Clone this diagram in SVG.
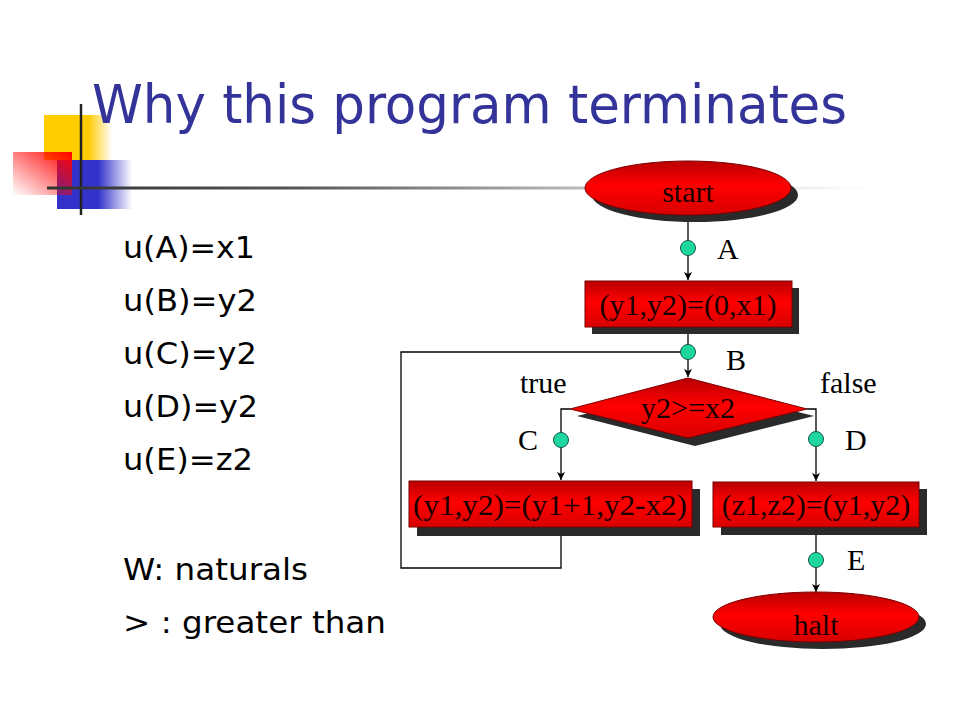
<svg xmlns="http://www.w3.org/2000/svg" width="960" height="720" viewBox="0 0 960 720">
<defs>
<linearGradient id="redfill" x1="0" y1="0" x2="0" y2="1">
<stop offset="0" stop-color="#b80000"/>
<stop offset="0.45" stop-color="#ff0000"/>
<stop offset="1" stop-color="#d80000"/>
</linearGradient>
<linearGradient id="yel" x1="0" y1="0" x2="1" y2="0">
<stop offset="0" stop-color="#ffcc00"/>
<stop offset="0.65" stop-color="#ffcc00"/>
<stop offset="1" stop-color="#ffcc00" stop-opacity="0"/>
</linearGradient>
<linearGradient id="blu" x1="0" y1="0" x2="1" y2="0">
<stop offset="0" stop-color="#3333cc"/>
<stop offset="0.55" stop-color="#3333cc"/>
<stop offset="1" stop-color="#3333cc" stop-opacity="0"/>
</linearGradient>
<linearGradient id="redsq" x1="1" y1="0" x2="0" y2="1">
<stop offset="0" stop-color="#ff0000"/>
<stop offset="1" stop-color="#ff0000" stop-opacity="0"/>
</linearGradient>
<linearGradient id="hline" x1="0" y1="0" x2="1" y2="0">
<stop offset="0" stop-color="#333333"/>
<stop offset="0.3" stop-color="#555555"/>
<stop offset="0.65" stop-color="#bbbbbb"/>
<stop offset="1" stop-color="#ffffff"/>
</linearGradient>
<marker id="arr" markerWidth="10" markerHeight="10" refX="8" refY="4" orient="auto" markerUnits="userSpaceOnUse">
<path d="M0,0 L8,4 L0,8 L2,4 Z" fill="#000"/>
</marker>
</defs>
<style>
.sh{fill:#2a2a2a}
.rd{fill:url(#redfill);stroke:#7a0000;stroke-width:1}
.ft{font-family:"Liberation Serif","Times New Roman",serif;font-size:30px;fill:#1a0000;text-anchor:middle}
.lb{font-family:"Liberation Serif","Times New Roman",serif;font-size:30px;fill:#000}
.bt{font-family:"DejaVu Sans","Liberation Sans",sans-serif;font-size:31px;fill:#000}
.dot{fill:#1fd6a0;stroke:#0b5a44;stroke-width:1}
.cn{fill:none;stroke:#000;stroke-width:1.3}
</style>
<rect width="960" height="720" fill="#fff"/>
<g id="logo">
<rect x="44" y="115" width="68" height="45" fill="url(#yel)"/>
<rect x="57" y="160" width="75" height="49" fill="url(#blu)"/>
<rect x="13" y="152" width="59" height="43" fill="url(#redsq)"/>
<line x1="81" y1="104" x2="81" y2="215" stroke="#222" stroke-width="2.5"/>
<rect x="47" y="186.5" width="823" height="3" fill="url(#hline)"/>
</g>
<text id="title" x="92" y="123" font-family="DejaVu Sans Condensed,DejaVu Sans,sans-serif" font-size="54" fill="#333399" textLength="755" lengthAdjust="spacingAndGlyphs">Why this program terminates</text>
<g id="body">
<text class="bt" x="123" y="258" textLength="132" lengthAdjust="spacingAndGlyphs">u(A)=x1</text>
<text class="bt" x="123" y="311" textLength="134" lengthAdjust="spacingAndGlyphs">u(B)=y2</text>
<text class="bt" x="123" y="364" textLength="134" lengthAdjust="spacingAndGlyphs">u(C)=y2</text>
<text class="bt" x="123" y="417" textLength="135" lengthAdjust="spacingAndGlyphs">u(D)=y2</text>
<text class="bt" x="123" y="470" textLength="130" lengthAdjust="spacingAndGlyphs">u(E)=z2</text>
<text class="bt" x="123" y="580" textLength="185" lengthAdjust="spacingAndGlyphs">W: naturals</text>
<text class="bt" x="123" y="633" textLength="263" lengthAdjust="spacingAndGlyphs">&gt; : greater than</text>
</g>
<g id="connectors">
<line class="cn" x1="688" y1="215" x2="688" y2="280" marker-end="url(#arr)"/>
<line class="cn" x1="688" y1="327" x2="688" y2="352"/>
<line class="cn" x1="688" y1="352" x2="688" y2="377" marker-end="url(#arr)"/>
<polyline class="cn" points="570,409 561,409 561,480" marker-end="url(#arr)"/>
<polyline class="cn" points="807,409 816,409 816,481" marker-end="url(#arr)"/>
<polyline class="cn" points="561,527 561,568 401,568 401,352 688,352"/>
<line class="cn" x1="816" y1="527" x2="816" y2="592" marker-end="url(#arr)"/>
<circle class="dot" cx="688" cy="248" r="7.5"/>
<circle class="dot" cx="688" cy="352" r="7.5"/>
<circle class="dot" cx="561" cy="440" r="7.5"/>
<circle class="dot" cx="816" cy="439" r="7.5"/>
<circle class="dot" cx="816" cy="560" r="7.5"/>
<text class="lb" x="717" y="259">A</text>
<text class="lb" x="726" y="370">B</text>
<text class="lb" x="518" y="450">C</text>
<text class="lb" x="845" y="450">D</text>
<text class="lb" x="847" y="570">E</text>
<text class="lb" x="520" y="393">true</text>
<text class="lb" x="820" y="393">false</text>
</g>
<g id="start">
<ellipse class="sh" cx="695" cy="195" rx="103" ry="27"/>
<ellipse class="rd" cx="688" cy="188" rx="103" ry="27"/>
<text class="ft" x="688" y="202">start</text>
</g>
<g id="init">
<rect class="sh" x="592" y="288" width="207" height="46"/>
<rect class="rd" x="585" y="281" width="207" height="46"/>
<text class="ft" x="688" y="315">(y1,y2)=(0,x1)</text>
</g>
<g id="test">
<polygon class="sh" points="695,386 814,416 695,446 577,416"/>
<polygon class="rd" points="688,378 807,409 688,438 570,409"/>
<text class="ft" x="688" y="418">y2&gt;=x2</text>
</g>
<g id="loopbody">
<rect class="sh" x="417" y="489" width="283" height="47"/>
<rect class="rd" x="409" y="481" width="283" height="46"/>
<text class="ft" x="550" y="515" textLength="274" lengthAdjust="spacingAndGlyphs">(y1,y2)=(y1+1,y2-x2)</text>
</g>
<g id="assign">
<rect class="sh" x="721" y="489" width="206" height="46"/>
<rect class="rd" x="713" y="482" width="206" height="45"/>
<text class="ft" x="816" y="515">(z1,z2)=(y1,y2)</text>
</g>
<g id="halt">
<ellipse class="sh" cx="823" cy="624" rx="103" ry="25"/>
<ellipse class="rd" cx="816" cy="617" rx="103" ry="25"/>
<text class="ft" x="816" y="635">halt</text>
</g>
</svg>
